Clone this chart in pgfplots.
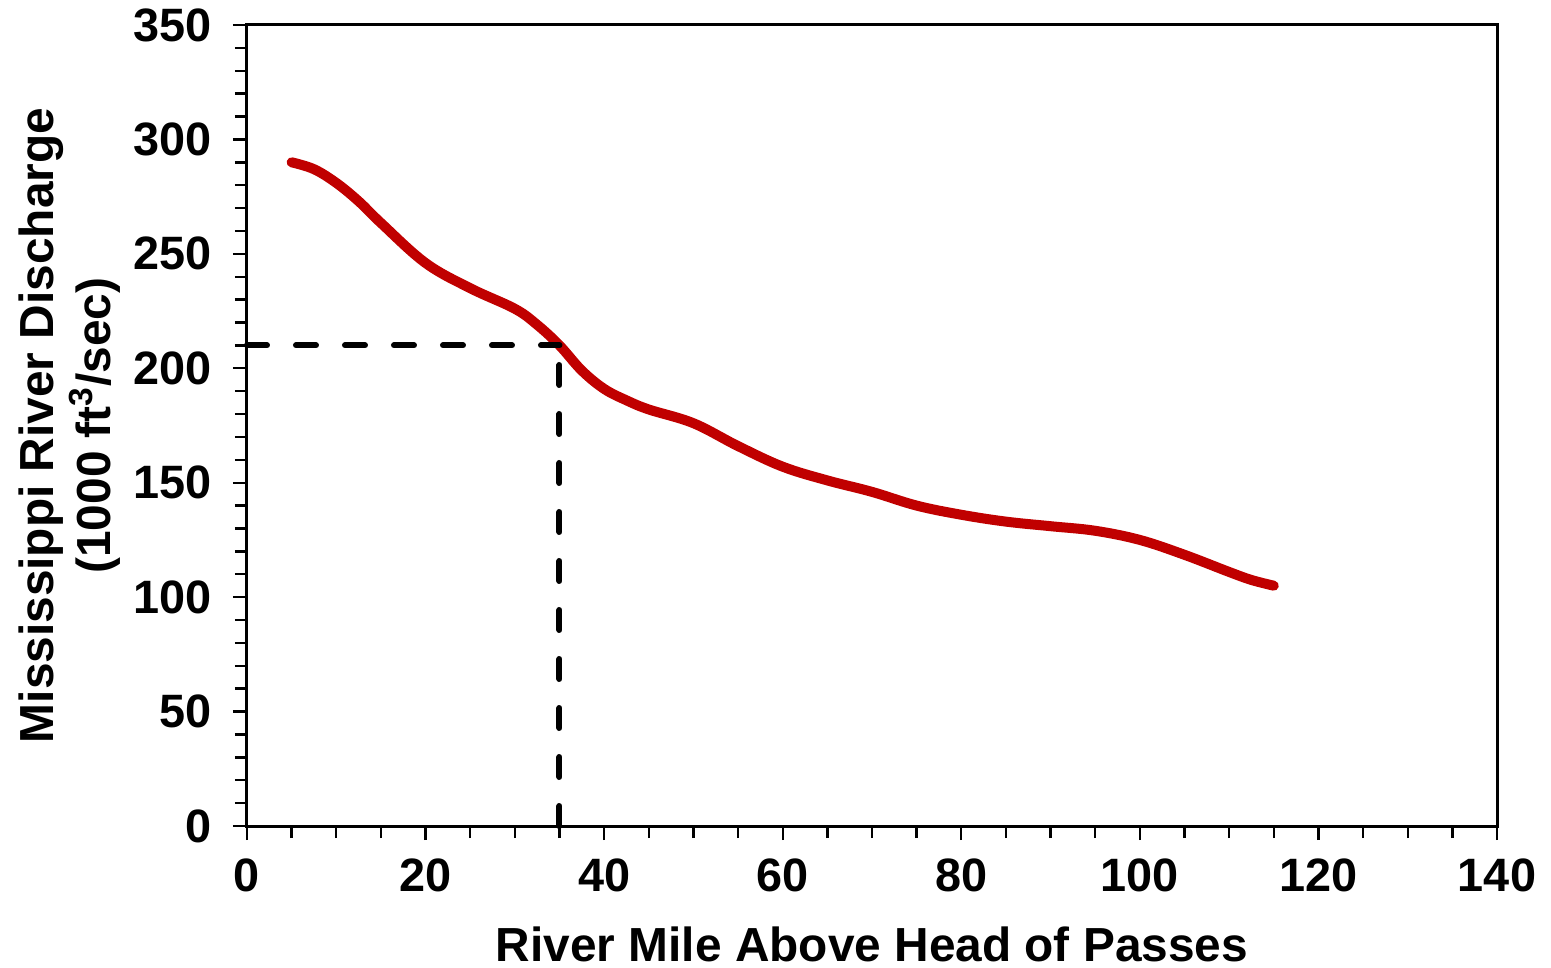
\documentclass[border=0pt]{standalone}
\usepackage{pgfplots}
\pgfplotsset{compat=1.18}
\usepackage{fontspec}
\setmainfont{Liberation Sans}

\definecolor{riverred}{HTML}{C00000}

\begin{document}
\begin{tikzpicture}
  \begin{axis}[
    at={(0,0)}, anchor=south west,
    scale only axis,
    width=625bp, height=400.5bp,
    xmin=0, xmax=140, ymin=0, ymax=350,
    xtick={0,20,...,140},
    ytick={0,50,...,350},
    minor x tick num=3,
    minor y tick num=4,
    tick align=outside,
    major tick length=7bp,
    minor tick length=6bp,
    xtick pos=bottom, ytick pos=left,
    axis line style={line width=1.5bp},
    every tick/.style={black, line width=1.2bp},
    /pgf/number format/assume math mode=true,
    tick label style={font=\fontsize{23.5}{28}\selectfont\bfseries},
    xticklabel style={yshift=-6bp},
    yticklabel style={xshift=-7bp},
    label style={font=\fontsize{24}{28.5}\selectfont\bfseries},
    xlabel={River Mile Above Head of Passes},
    xlabel style={at={([yshift=-67.5bp]axis description cs:0.5,0)}, anchor=base},
    ylabel={Mississippi River Discharge\\(1000 ft\textsuperscript{3}/sec)},
    ylabel style={align=center, at={([xshift=-60bp]axis description cs:0,0.5)}, anchor=south, rotate=0},
    clip=false,
  ]
    % discharge along the river
    \addplot[riverred, line width=5bp, line cap=round, smooth, tension=0.6] coordinates {
      (5,290) (7.5,287) (10,281) (12.5,273) (15,263.5) (20,246) (25,235)
      (30,226) (32.5,219) (35,210) (37.5,199) (40,191) (42.5,186) (45,182)
      (50,176) (55,166) (60,157) (65,151) (70,146) (75,140) (80,136)
      (85,133) (90,131) (95,129) (100,125) (105,118.5) (110,111) (112.5,107.5)
      (115,105)
    };
    % reference lines at mile 35
    \addplot[black, line width=3bp, line cap=round, dash pattern=on 10bp off 14.5bp]
      coordinates {(0,210) (35,210)};
    \addplot[black, line width=3bp, line cap=round, dash pattern=on 10bp off 14.5bp]
      coordinates {(35,0) (35,210)};
  \end{axis}
  \pgfresetboundingbox
  \path (-123.5bp,-71bp) rectangle (652bp,413bp);
\end{tikzpicture}
\end{document}
